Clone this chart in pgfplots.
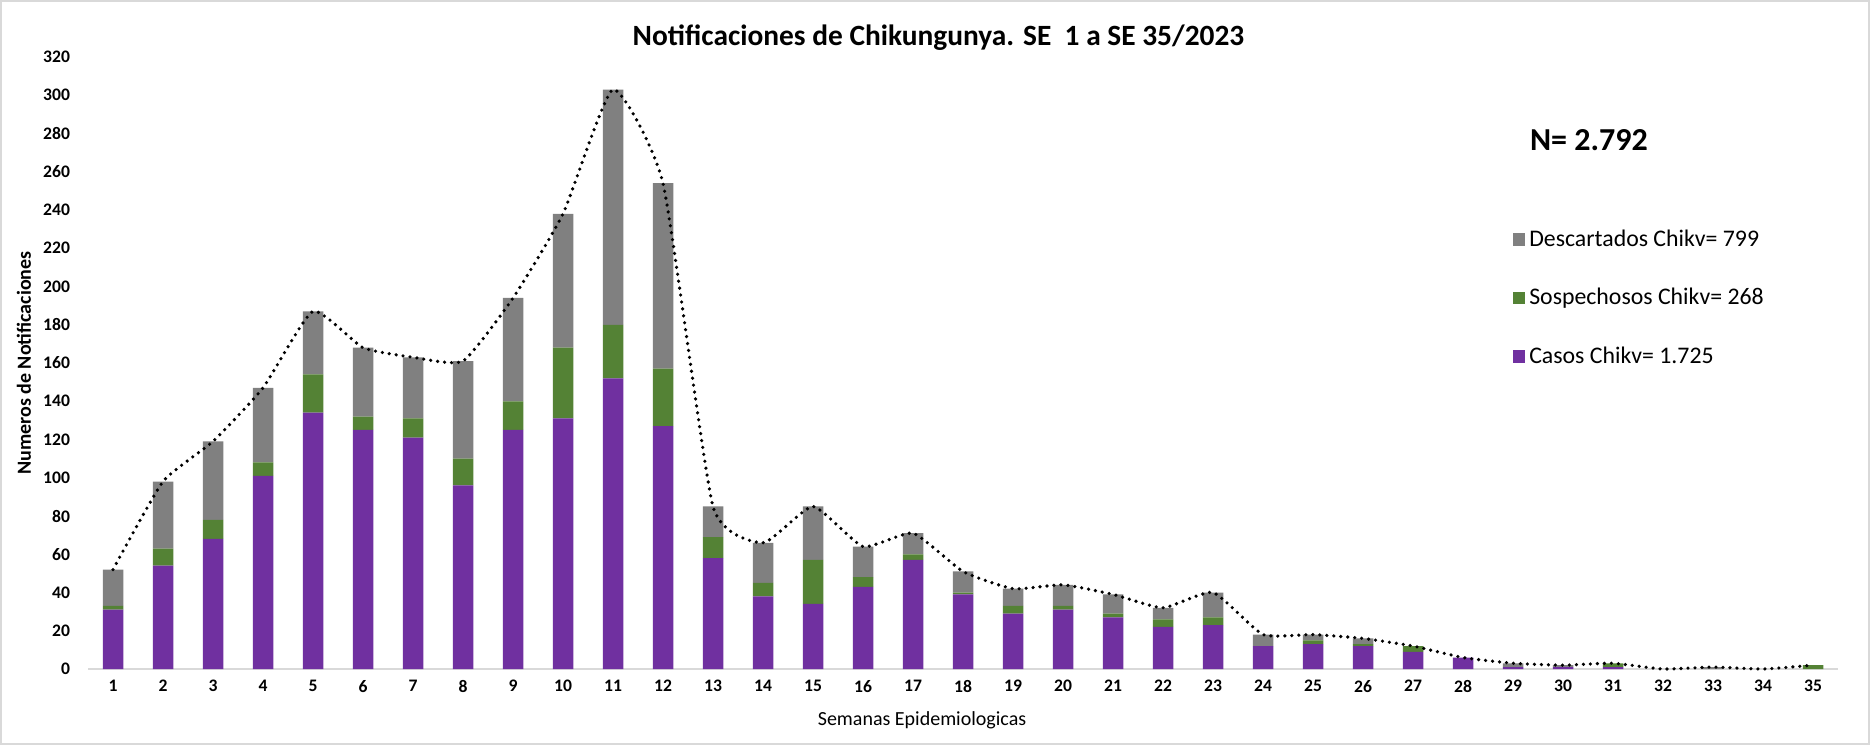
\documentclass[border=0pt]{standalone}
\usepackage{pgfplots}
\usepackage{pgfplotstable}
\pgfplotsset{compat=1.18}
\usepackage{fontspec}
\setmainfont{Carlito}
\definecolor{cpurple}{HTML}{7030A0}
\definecolor{cgreen}{HTML}{548235}
\definecolor{cgray}{HTML}{808080}
\definecolor{axgray}{HTML}{D9D9D9}

\pgfplotstableread{
week casos sosp desc total
1 31 2 19 52
2 54 9 35 98
3 68 10 41 119
4 101 7 39 147
5 134 20 33 187
6 125 7 36 168
7 121 10 32 163
8 96 14 51 161
9 125 15 54 194
10 131 37 70 238
11 152 28 123 303
12 127 30 97 254
13 58 11 16 85
14 38 7 21 66
15 34 23 28 85
16 43 5 16 64
17 57 3 11 71
18 39 1 11 51
19 29 4 9 42
20 31 2 11 44
21 27 2 10 39
22 22 4 6 32
23 23 4 13 40
24 12 0 6 18
25 13 2 3 18
26 12 1 3 16
27 9 3 0 12
28 6 0 0 6
29 1 0 2 3
30 1 0 1 2
31 1 2 0 3
32 0 0 0 0
33 0 0 1 1
34 0 0 0 0
35 0 2 0 2
}\datatable

\begin{document}
\begin{tikzpicture}
\useasboundingbox (0,0) rectangle (935pt,372.5pt);
\draw[axgray, line width=1pt] (0.5pt,0.5pt) rectangle (934.5pt,372pt);
\pgfplotsset{
  base/.style={
    scale only axis, width=875pt, height=306pt,
    at={(44pt,38pt)}, anchor=south west,
    xmin=0.5, xmax=35.5, ymin=0, ymax=320,
  }
}
\begin{axis}[base,
  ybar stacked, bar width=10.25pt,
  clip=false,
  axis y line*=left,
  y axis line style={draw=none},
  axis x line*=bottom,
  x axis line style={axgray, line width=1pt, -},
  xtick={1,...,35}, ytick={0,20,...,320},
  major tick length=0pt,
  /pgf/number format/assume math mode=true,
  ticklabel style={font=\fontsize{8.8}{10}\selectfont\bfseries},
  yticklabel style={xshift=-5.5pt},
  xticklabel style={yshift=-2pt},
  ylabel={Numeros de Notificaciones},
  ylabel style={at={(axis description cs:-0.0366,0.5)}, anchor=center, font=\fontsize{10}{12}\selectfont\bfseries},
  xlabel={Semanas Epidemiologicas},
  xlabel style={at={(axis description cs:0.4766,-0.083)}, anchor=center, font=\fontsize{10}{12}\selectfont},
  legend style={at={(axis description cs:0.814,0.606)}, anchor=west, draw=none, fill=none,
    row sep=15.5pt, font=\fontsize{11.9}{13}\selectfont, inner sep=0pt},
  legend cell align=left,
  reverse legend,
  legend image code/.code={\fill[#1] (0pt,-3.1pt) rectangle (6.2pt,3.1pt);},
]
\addplot[fill=cpurple, draw=none] table[x=week, y=casos] {\datatable};
\addlegendentry{Casos Chikv= 1.725}
\addplot[fill=cgreen, draw=none] table[x=week, y=sosp] {\datatable};
\addlegendentry{Sospechosos Chikv= 268}
\addplot[fill=cgray, draw=none] table[x=week, y=desc] {\datatable};
\addlegendentry{Descartados Chikv= 799}
\node[anchor=center, font=\fontsize{14.7}{17}\selectfont\bfseries] at (axis description cs:0.486,1.032) {Notificaciones de Chikungunya. SE\ \ 1 a SE 35/2023};
\node[anchor=west, font=\fontsize{16}{18}\selectfont\bfseries] at (axis description cs:0.8200,0.864) {N= 2.792};
\end{axis}
\begin{axis}[base, hide axis, clip=false]
\addplot[black, line width=1.8pt, dash pattern=on 0pt off 3.5pt, line cap=round, smooth, tension=0.3, mark=none]
  table[x=week, y=total] {\datatable};
\end{axis}
\end{tikzpicture}
\end{document}
